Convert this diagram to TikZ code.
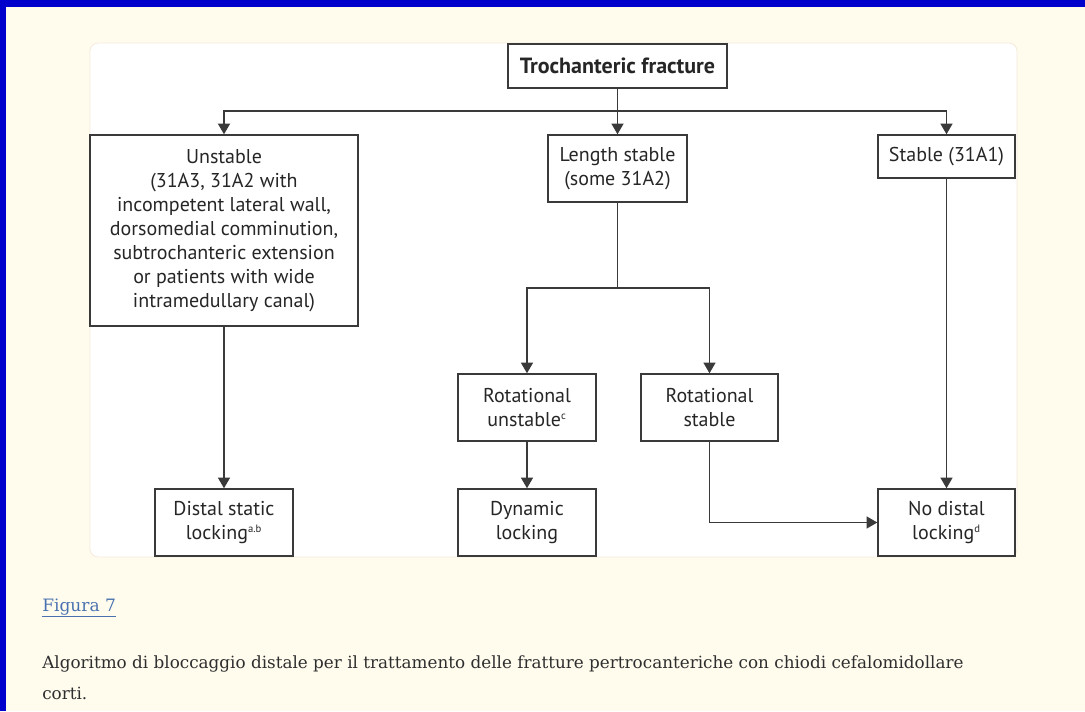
\documentclass[tikz,border=0pt]{standalone}
\usepackage{fontspec}
\setmainfont{DejaVu Serif}
\setsansfont{PT Sans}
\usetikzlibrary{arrows.meta, positioning}
\definecolor{pagecream}{HTML}{FFFCEE}
\definecolor{pageblue}{HTML}{0000CC}
\definecolor{panelrim}{HTML}{F6EADB}
\definecolor{linegrey}{HTML}{3A3A3A}
\definecolor{linkblue}{HTML}{4A72B0}
\definecolor{captiongrey}{HTML}{2E2E2E}
\tikzset{
  box/.style = {draw=linegrey, line width=1.1pt, fill=white, align=center,
                text=black!85, font=\sffamily\fontsize{15}{18}\selectfont, inner sep=2pt},
  title box/.style = {box, font=\sffamily\bfseries\fontsize{16.5}{18}\selectfont},
  link/.style = {line width=1.1pt, linegrey, arrows={-Triangle[width=9pt, length=8pt]}},
  trunk/.style = {line width=1.1pt, linegrey},
  panel/.style = {fill=white, draw=panelrim, line width=0.6pt, rounded corners=6pt},
}
\newcommand{\supnote}[1]{\textsuperscript{\fontsize{8}{8}\selectfont #1}}
\begin{document}
\begin{tikzpicture}[x=0.75pt, y=-0.75pt]
  % page frame
  \useasboundingbox (0,0) rectangle (1085,711);
  \fill [pagecream] (0,0) rectangle (1085,711);
  \fill [pageblue] (0,0) rectangle (1085,7);
  \fill [pageblue] (0,0) rectangle (6,711);
  \path [panel] (90,43) rectangle (1017,557);

  % boxes
  \node (fracture) [title box, minimum width=219*0.75pt, minimum height=44*0.75pt]
    at (617.5,66) {Trochanteric fracture};
  \node (unstable) [box, minimum width=268*0.75pt, minimum height=191*0.75pt]
    at (224,230.5) {Unstable\\(31A3, 31A2 with\\incompetent lateral wall,\\dorsomedial comminution,\\subtrochanteric extension\\or patients with wide\\intramedullary canal)};
  \node (length) [box, minimum width=139*0.75pt, minimum height=67*0.75pt]
    at (617.5,168.5) {Length stable\\(some 31A2)};
  \node (stable) [box, minimum width=137*0.75pt, minimum height=43*0.75pt]
    at (946.5,156.5) {Stable (31A1)};
  \node (rotunstable) [box, minimum width=138*0.75pt, minimum height=67*0.75pt]
    at (527,407.5) {Rotational\\unstable\supnote{c}};
  \node (rotstable) [box, minimum width=137*0.75pt, minimum height=67*0.75pt]
    at (709.5,407.5) {Rotational\\stable};
  \node (staticlock) [box, minimum width=138*0.75pt, minimum height=67*0.75pt]
    at (224,522.5) {Distal static\\locking\supnote{a.b}};
  \node (dynlock) [box, minimum width=138*0.75pt, minimum height=67*0.75pt]
    at (527,522.5) {Dynamic\\locking};
  \node (nolock) [box, minimum width=137*0.75pt, minimum height=67*0.75pt]
    at (946.5,522.5) {No distal\\locking\supnote{d}};

  % branch points
  \coordinate (split) at (617.5,111);
  \coordinate (lengthsplit) at (617.5,288);

  % connectors
  \draw [trunk] (fracture) -- (split);
  \draw [link] (split) -| (unstable);
  \draw [link] (split) -- (length);
  \draw [link] (split) -| (stable);
  \draw [trunk] (length) -- (lengthsplit);
  \draw [link] (lengthsplit) -| (rotunstable);
  \draw [link] (lengthsplit) -| (rotstable);
  \draw [link] (unstable) -- (staticlock);
  \draw [link] (rotunstable) -- (dynlock);
  \draw [link] (rotstable) |- (nolock);
  \draw [link] (stable) -- (nolock);

  % caption
  \node (figlabel) [anchor=base west, inner sep=0pt, text=linkblue,
    font=\fontsize{12.8}{24}\selectfont] at (42,611) {\underline{Figura 7}};
  \node (caption) [anchor=north west, inner sep=0pt, text=captiongrey, align=left,
    font=\fontsize{12.6}{23.5}\selectfont] at (42,655)
    {Algoritmo di bloccaggio distale per il trattamento delle fratture pertrocanteriche con chiodi cefalomidollare\\corti.};
\end{tikzpicture}
\end{document}
